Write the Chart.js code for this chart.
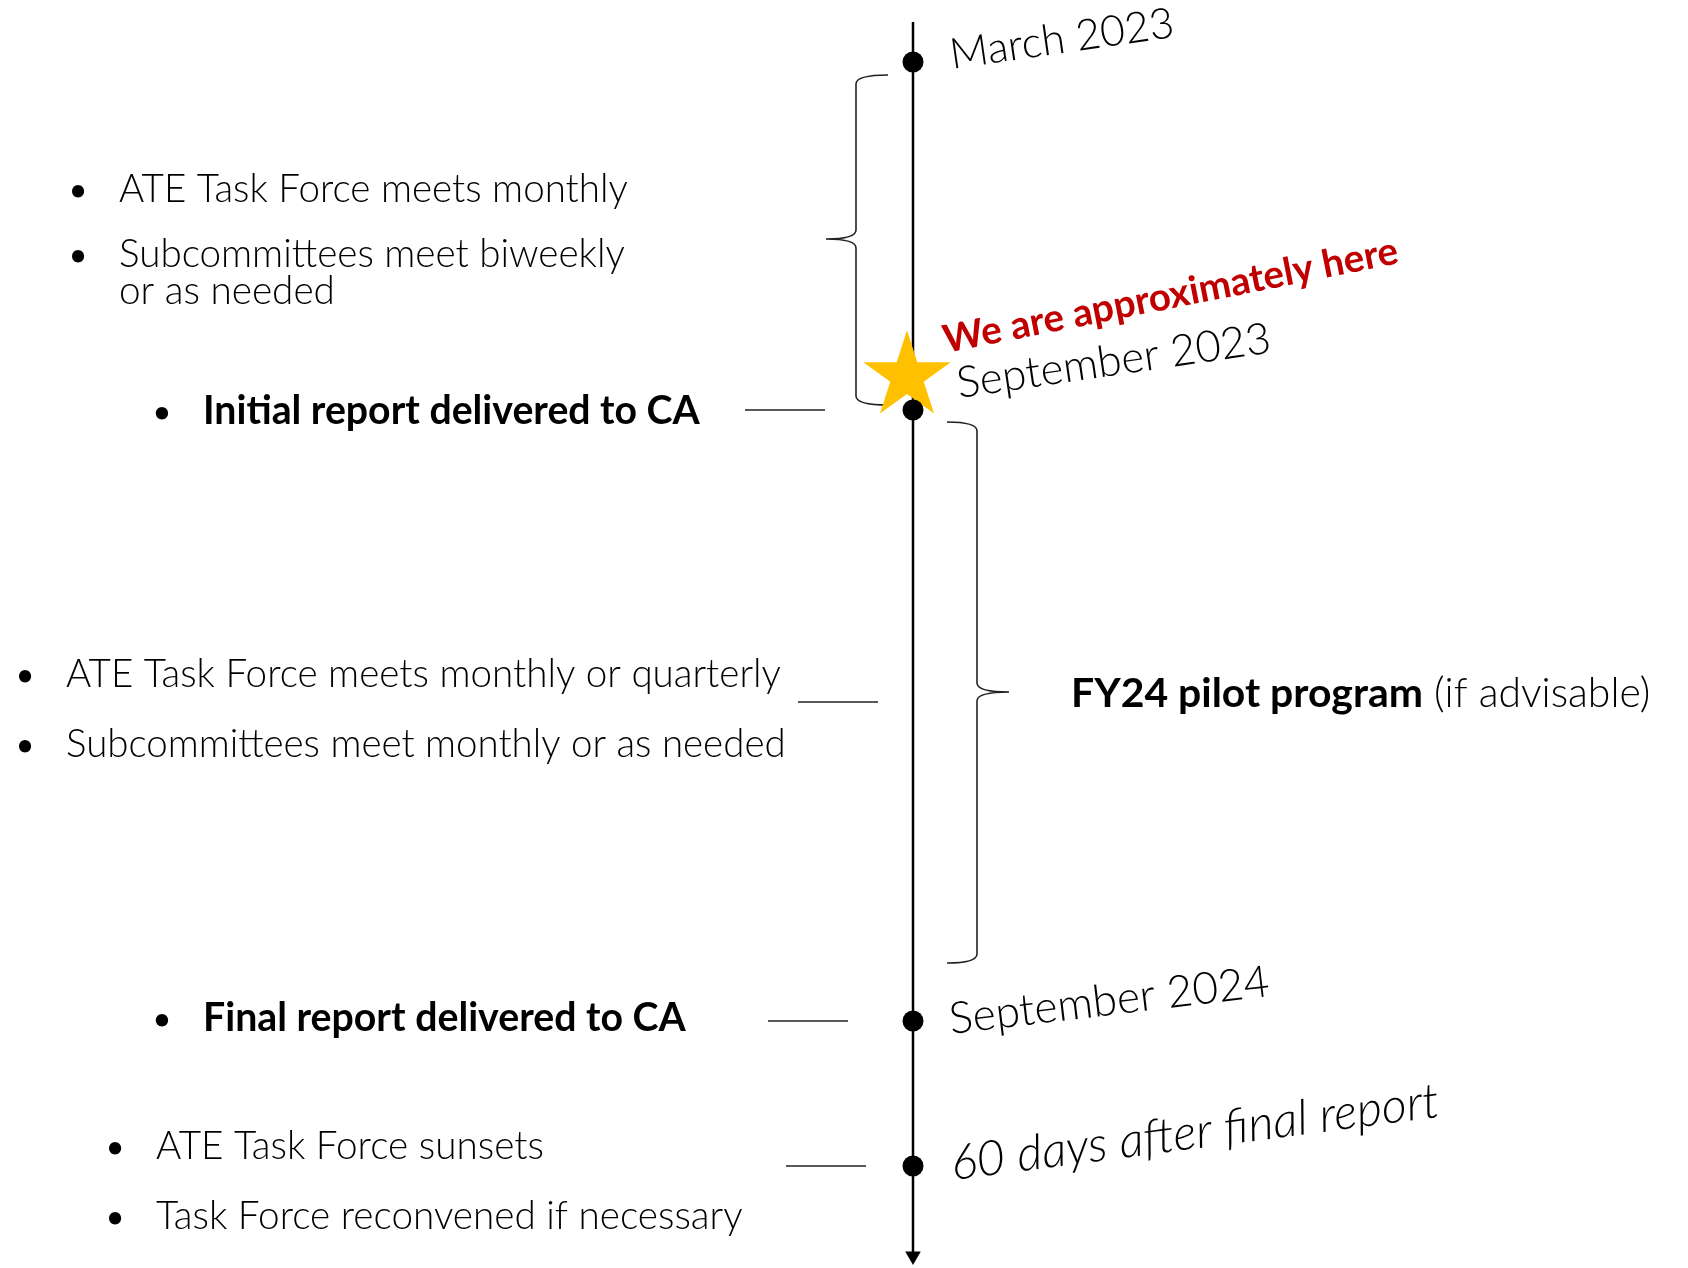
<!DOCTYPE html>
<html>
<head>
<meta charset="utf-8">
<title>ATE Task Force timeline</title>
<script src="https://cdn.jsdelivr.net/npm/chart.js@4.4.0/dist/chart.umd.min.js"></script>
<style>
  html, body { margin: 0; padding: 0; background: #fff; }
  canvas { display: block; }
</style>
</head>
<body>
<canvas id="timeline" width="1688" height="1268"></canvas>
<script>
// Timeline values (y runs top to bottom along the timeline)
const milestoneLabels = ['March 2023', 'September 2023', 'September 2024', '60 days after final report'];
const milestonePos = [62, 410, 1021, 1166];
const timelineRange = [22, 1256];
const currentLabel = 'We are approximately here';
const currentPos = 372;

// Phase braces: start, middle, end
const phaseStart = [75, 422];
const phaseMid = [239, 692];
const phaseEnd = [405, 963];
const phaseLabelBold = 'FY24 pilot program';
const phaseLabelRest = ' (if advisable)';

// Notes on the left
const noteTexts = [
    'ATE Task Force meets monthly',
    'Subcommittees meet biweekly',
    'or as needed',
    'Initial report delivered to CA',
    'ATE Task Force meets monthly or quarterly',
    'Subcommittees meet monthly or as needed',
    'Final report delivered to CA',
    'ATE Task Force sunsets',
    'Task Force reconvened if necessary'
];
const noteBold = [false, false, false, true, false, false, true, false, false];
const noteBullet = [true, true, false, true, true, true, true, true, true];
const connectorPos = [410, 702, 1021, 1166];

// Layout (canvas units)
const axisX = 913;
const fam = 'Lato, "Open Sans", sans-serif';
const lightWeight = '300';
const noteLayout = [
    { x: 119, y: 202, w: 509 },
    { x: 119, y: 267, w: 506 },
    { x: 119, y: 304, w: 216 },
    { x: 203, y: 424, w: 497 },
    { x: 66, y: 687, w: 715 },
    { x: 66, y: 757, w: 720 },
    { x: 203, y: 1031, w: 483 },
    { x: 156, y: 1159, w: 388 },
    { x: 156, y: 1229, w: 587 }
];
const connectorX = [745, 798, 768, 786];
const labelLayout = [
    { x: 952, y: 69, angle: 8.2, w: 226, style: 'normal' },
    { x: 959, y: 398, angle: 8.3, w: 317, style: 'normal' },
    { x: 951, y: 1034, angle: 6.8, w: 322, style: 'normal' },
    { x: 953, y: 1180, angle: 7.4, w: 492, style: 'italic' }
];

// Star marker
function makeStar(r, color) {
    const c = document.createElement('canvas');
    c.width = c.height = Math.ceil(r * 2 + 2);
    const g = c.getContext('2d');
    const cx = c.width / 2, cy = c.height / 2 + r * 0.095;
    g.beginPath();
    for (let i = 0; i < 10; i++) {
        const rad = i % 2 === 0 ? r : r * 0.382;
        const a = -Math.PI / 2 + i * Math.PI / 5;
        g.lineTo(cx + rad * Math.cos(a), cy + rad * Math.sin(a));
    }
    g.closePath();
    g.fillStyle = color;
    g.fill();
    return c;
}

function fitFont(ctx, text, weight, style, width) {
    ctx.font = `${style} ${weight} 100px ${fam}`;
    return 100 * width / ctx.measureText(text).width;
}

function drawBrace(ctx, px, py, spineX, tipX, hookX, top, mid, bot) {
    const d = 9;
    ctx.beginPath();
    ctx.moveTo(px(hookX), py(top));
    ctx.quadraticCurveTo(px(spineX), py(top), px(spineX), py(top + d));
    ctx.lineTo(px(spineX), py(mid - d));
    ctx.quadraticCurveTo(px(spineX), py(mid), px(tipX), py(mid));
    ctx.quadraticCurveTo(px(spineX), py(mid), px(spineX), py(mid + d));
    ctx.lineTo(px(spineX), py(bot - d));
    ctx.quadraticCurveTo(px(spineX), py(bot), px(hookX), py(bot));
    ctx.lineWidth = 1.6;
    ctx.strokeStyle = '#222';
    ctx.stroke();
}

const annotate = {
    id: 'annotate',
    beforeDatasetsDraw(chart) {
        const ctx = chart.ctx;
        const px = v => chart.scales.x.getPixelForValue(v);
        const py = v => chart.scales.y.getPixelForValue(v);
        ctx.save();
        drawBrace(ctx, px, py, 856, 826, 888, phaseStart[0], phaseMid[0], phaseEnd[0]);
        drawBrace(ctx, px, py, 977, 1009, 947, phaseStart[1], phaseMid[1], phaseEnd[1]);
        ctx.restore();
    },
    afterDatasetsDraw(chart) {
        const ctx = chart.ctx;
        const px = v => chart.scales.x.getPixelForValue(v);
        const py = v => chart.scales.y.getPixelForValue(v);
        ctx.save();
        ctx.textBaseline = 'alphabetic';
        ctx.fillStyle = '#000';

        // left notes
        noteTexts.forEach((t, i) => {
            const l = noteLayout[i];
            const w = noteBold[i] ? 'bold' : lightWeight;
            const size = fitFont(ctx, t, w, 'normal', l.w);
            ctx.font = `normal ${w} ${size}px ${fam}`;
            ctx.textAlign = 'left';
            ctx.fillText(t, px(l.x), py(l.y));
            if (noteBullet[i]) {
                ctx.font = `normal bold ${size * 0.72}px ${fam}`;
                ctx.textAlign = 'center';
                ctx.fillText('\u2022', px(l.x - 41), py(l.y - 2));
            }
        });

        // phase label
        const fs = fitFont(ctx, phaseLabelBold, 'bold', 'normal', 352);
        ctx.textAlign = 'left';
        ctx.font = `normal bold ${fs}px ${fam}`;
        ctx.fillText(phaseLabelBold, px(1071), py(707));
        const bw = ctx.measureText(phaseLabelBold).width;
        ctx.font = `normal ${lightWeight} ${fs}px ${fam}`;
        ctx.fillText(phaseLabelRest, px(1071) + bw, py(707));

        // milestone labels (tilted)
        milestoneLabels.forEach((t, i) => {
            const l = labelLayout[i];
            const size = fitFont(ctx, t, lightWeight, l.style, l.w);
            ctx.save();
            ctx.translate(px(l.x), py(l.y));
            ctx.rotate(-l.angle * Math.PI / 180);
            ctx.font = `${l.style} ${lightWeight} ${size}px ${fam}`;
            ctx.fillText(t, 0, 0);
            ctx.restore();
        });

        // current position label
        const cs = fitFont(ctx, currentLabel, 'bold', 'normal', 463);
        ctx.save();
        ctx.translate(px(946), py(353));
        ctx.rotate(-11.2 * Math.PI / 180);
        ctx.font = `normal bold ${cs}px ${fam}`;
        ctx.fillStyle = '#C00000';
        ctx.fillText(currentLabel, 0, 0);
        ctx.restore();

        ctx.restore();
    }
};

const datasets = [
    {
        label: 'milestones',
        data: milestonePos.map(y => ({ x: axisX, y })),
        pointRadius: 10.5,
        pointBackgroundColor: '#000',
        pointBorderWidth: 0,
        showLine: false,
        order: 0
    },
    {
        label: 'current',
        data: [{ x: axisX - 6, y: currentPos }],
        pointStyle: makeStar(46, '#FFC000'),
        showLine: false,
        order: 1
    },
    {
        label: 'arrow',
        data: [{ x: axisX, y: timelineRange[1] }],
        pointStyle: 'triangle',
        rotation: 180,
        pointRadius: 9,
        pointBackgroundColor: '#000',
        pointBorderWidth: 0,
        showLine: false,
        order: 2
    },
    {
        label: 'timeline',
        data: timelineRange.map(y => ({ x: axisX, y })),
        showLine: true,
        borderColor: '#000',
        borderWidth: 2.5,
        pointRadius: 0,
        order: 3
    }
].concat(connectorPos.map((y, i) => ({
    label: 'connector ' + i,
    data: [{ x: connectorX[i], y }, { x: connectorX[i] + 80, y }],
    showLine: true,
    borderColor: '#222',
    borderWidth: 1.5,
    pointRadius: 0,
    order: 4
})));

new Chart(document.getElementById('timeline'), {
    type: 'scatter',
    data: { datasets },
    options: {
        responsive: false,
        animation: false,
        events: [],
        layout: { padding: 0, autoPadding: false },
        elements: { point: { hoverRadius: 0 } },
        datasets: { scatter: { clip: false } },
        plugins: {
            legend: { display: false },
            tooltip: { enabled: false }
        },
        scales: {
            x: { type: 'linear', min: 0, max: 1688, display: false },
            y: { type: 'linear', min: 0, max: 1268, reverse: true, display: false }
        }
    },
    plugins: [annotate]
});
</script>
</body>
</html>
